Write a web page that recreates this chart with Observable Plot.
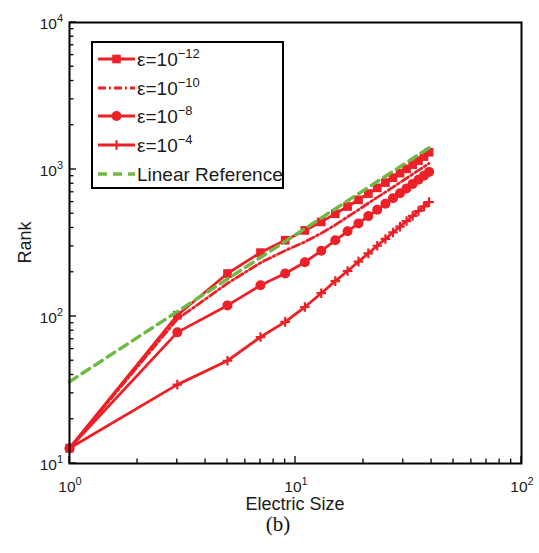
<!DOCTYPE html>
<html>
<head>
<meta charset="utf-8">
<script src="https://cdn.jsdelivr.net/npm/d3@7"></script>
<script src="https://cdn.jsdelivr.net/npm/@observablehq/plot@0.6"></script>
<style>
  body { margin: 0; background: #fff; }
  #chart svg { display: block; }
</style>
</head>
<body>
<div id="chart"></div>
<script>
// Electric size of the scatterer (x) and numerical rank for each tolerance ε
const electricSize = [1, 3, 5, 7, 9, 11, 13, 15, 17, 19, 21, 23, 25, 27, 29, 31, 33, 35, 37, 39];
const rankEps12 = [12.7, 102, 196, 272, 330, 385, 440, 500, 560, 622, 686, 750, 815, 880, 945, 1010, 1080, 1150, 1225, 1310];
const rankEps10 = [12.7, 96, 168, 232, 281, 322, 368, 420, 476, 532, 590, 646, 702, 758, 815, 872, 930, 987, 1043, 1100];
const rankEps8  = [12.7, 78, 119, 163, 196, 234, 280, 330, 380, 430, 482, 533, 585, 638, 690, 744, 798, 852, 906, 963];
const rankEps4  = [12.7, 34.4, 50, 72.5, 92, 116, 144, 174, 204, 236, 269, 303, 337, 373, 409, 446, 484, 522, 561, 600];

// Linear reference line (rank proportional to electric size)
const referenceSize = [1, 39];
const referenceRank = [36, 1404];

// Axis decades (tick labels are 10^k)
const xTickExponents = [0, 1, 2];
const yTickExponents = [1, 2, 3, 4];

// Legend entries
const legendBase = "ε=10";
const legendExponents = ["−12", "−10", "−8", "−4"];
const referenceLabel = "Linear Reference";

const red = "#ec2027";
const green = "#6db944";
const sans = "'Liberation Sans', Arial, Helvetica, sans-serif";

const toRows = (ranks) => electricSize.map((s, i) => ({size: s, rank: ranks[i]}));
const eps12 = toRows(rankEps12);
const eps10 = toRows(rankEps10);
const eps8 = toRows(rankEps8);
const eps4 = toRows(rankEps4);
const reference = referenceSize.map((s, i) => ({size: s, rank: referenceRank[i]}));

const lw = 2.8;

const chart = Plot.plot({
  width: 539,
  height: 553,
  marginTop: 22,
  marginRight: 18,
  marginBottom: 90,
  marginLeft: 69,
  style: {background: "white", fontFamily: sans},
  x: {type: "log", domain: [1, 100], axis: null},
  y: {type: "log", domain: [10, 10000], axis: null},
  marks: [
    Plot.line(eps4, {x: "size", y: "rank", stroke: red, strokeWidth: lw}),
    Plot.dot(eps4, {x: "size", y: "rank", symbol: "plus", r: 3.2, stroke: red, strokeWidth: 2.2}),
    Plot.line(eps8, {x: "size", y: "rank", stroke: red, strokeWidth: lw}),
    Plot.dot(eps8, {x: "size", y: "rank", symbol: "circle", r: 5, fill: red}),
    Plot.line(eps10, {x: "size", y: "rank", stroke: red, strokeWidth: lw, strokeDasharray: "8,3,2,3"}),
    Plot.line(eps12, {x: "size", y: "rank", stroke: red, strokeWidth: lw}),
    Plot.dot(eps12, {x: "size", y: "rank", symbol: "square", r: 4.9, fill: red}),
    Plot.line(reference, {x: "size", y: "rank", stroke: green, strokeWidth: 3.4, strokeDasharray: "9,6"}),
    Plot.frame({stroke: "black", strokeWidth: 2})
  ]
});

document.getElementById("chart").appendChild(chart);

// Inward log ticks, power-of-ten labels, titles and the legend
const svg = d3.select(chart);
const sx = chart.scale("x");
const sy = chart.scale("y");
const X = (v) => sx.apply(v);
const Y = (v) => sy.apply(v);
const y0 = Y(10);
const x0 = X(1);

const ticks = svg.append("g").attr("stroke", "black").attr("stroke-width", 1.3);
function decadeTicks(exps) {
  const out = [];
  for (let k = exps[0]; k < exps[exps.length - 1]; k++) {
    for (let d = 1; d <= 9; d++) out.push({v: d * 10 ** k, major: d === 1});
  }
  out.push({v: 10 ** exps[exps.length - 1], major: true});
  return out;
}
for (const t of decadeTicks(xTickExponents)) {
  const len = t.major ? 7 : 4.5;
  ticks.append("line").attr("x1", X(t.v)).attr("x2", X(t.v)).attr("y1", y0).attr("y2", y0 - len);
}
for (const t of decadeTicks(yTickExponents)) {
  const len = t.major ? 7 : 4.5;
  ticks.append("line").attr("x1", x0).attr("x2", x0 + len).attr("y1", Y(t.v)).attr("y2", Y(t.v));
}

function powerText(g, x, y, anchor, base, exp, size, supSize, rise) {
  const t = g.append("text")
    .attr("x", x).attr("y", y)
    .attr("text-anchor", anchor)
    .attr("font-size", size)
    .attr("fill", "#1a1a1a");
  t.append("tspan").text(base);
  t.append("tspan").attr("dy", -rise).attr("font-size", supSize).text(exp);
  return t;
}

const labels = svg.append("g").attr("font-family", sans);
for (const e of xTickExponents) {
  powerText(labels, X(10 ** e) + 1, 491.5, "middle", "10", String(e), 15.5, 11, 7);
}
for (const e of yTickExponents) {
  powerText(labels, 63, Y(10 ** e) + 7, "end", "10", String(e), 15.5, 11, 7);
}

labels.append("text")
  .attr("x", (X(1) + X(100)) / 2).attr("y", 510)
  .attr("text-anchor", "middle").attr("font-size", 18).attr("fill", "#1a1a1a")
  .text("Electric Size");

labels.append("text")
  .attr("transform", `translate(31,${(Y(10) + Y(10000)) / 2}) rotate(-90)`)
  .attr("text-anchor", "middle").attr("font-size", 18).attr("fill", "#1a1a1a")
  .text("Rank");

svg.append("text")
  .attr("x", 278).attr("y", 531)
  .attr("text-anchor", "middle")
  .attr("font-family", "'Liberation Serif', 'Times New Roman', serif")
  .attr("font-size", 21).attr("fill", "#111")
  .text("(b)");

// Legend box
const legend = svg.append("g").attr("font-family", sans).attr("text-anchor", "start");
legend.append("rect")
  .attr("x", 92).attr("y", 42).attr("width", 191).attr("height", 146)
  .attr("fill", "white").attr("stroke", "black").attr("stroke-width", 2);

const rowY = [59, 88, 116, 145, 174];
const lx1 = 98, lx2 = 135, lxm = (lx1 + lx2) / 2, tx = 137;

function legendLine(y, color, dash, width) {
  legend.append("line")
    .attr("x1", lx1).attr("x2", lx2).attr("y1", y).attr("y2", y)
    .attr("stroke", color).attr("stroke-width", width)
    .attr("stroke-dasharray", dash);
}

// ε=10^-12 : solid with squares
legendLine(rowY[0], red, null, lw);
legend.append("rect").attr("x", lxm - 4.3).attr("y", rowY[0] - 4.3).attr("width", 8.6).attr("height", 8.6).attr("fill", red);
// ε=10^-10 : dash-dot
legendLine(rowY[1], red, "8,3,2,3", lw);
// ε=10^-8 : solid with circles
legendLine(rowY[2], red, null, lw);
legend.append("circle").attr("cx", lxm).attr("cy", rowY[2]).attr("r", 5).attr("fill", red);
// ε=10^-4 : solid with plus markers
legendLine(rowY[3], red, null, lw);
legend.append("path")
  .attr("transform", `translate(${lxm},${rowY[3]})`)
  .attr("d", d3.symbol(d3.symbolPlus, Math.PI * 3.2 * 3.2)())
  .attr("fill", "none").attr("stroke", red).attr("stroke-width", 2.2);
// Linear reference : green dashes
legendLine(rowY[4], green, "9,6", 3.4);

legendExponents.forEach((exp, i) => {
  powerText(legend, tx, rowY[i] + 7, "start", legendBase, exp, 19, 13, 8.5);
});
legend.append("text")
  .attr("x", tx).attr("y", rowY[4] + 7)
  .attr("text-anchor", "start")
  .attr("font-size", 19).attr("fill", "#1a1a1a")
  .text(referenceLabel);
</script>
</body>
</html>
